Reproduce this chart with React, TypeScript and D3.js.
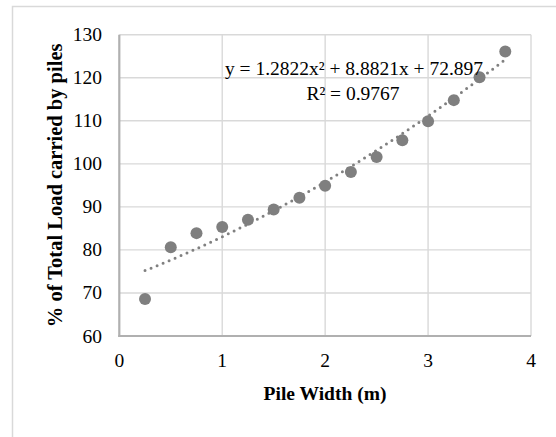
import React, { useEffect, useRef } from "react";
import * as d3 from "d3";

// pile width (m) and share of load carried by piles (%)
const pileWidths = [0.25, 0.5, 0.75, 1, 1.25, 1.5, 1.75, 2, 2.25, 2.5, 2.75, 3, 3.25, 3.5, 3.75];
const loadShare = [68.6, 80.6, 83.9, 85.3, 87.0, 89.4, 92.1, 94.9, 98.1, 101.6, 105.5, 109.9, 114.8, 120.1, 126.1];

// polynomial trendline coefficients (c0 + c1*x + c2*x^2), as printed on the chart
const trendCoef = [72.897, 8.8821, 1.2822];
const equationLabel = "y = 1.2822x² + 8.8821x + 72.897";
const r2Label = "R² = 0.9767";

const xTicks = [0, 1, 2, 3, 4];
const yTicks = [60, 70, 80, 90, 100, 110, 120, 130];

const xTitle = "Pile Width (m)";
const yTitle = "% of Total Load carried by piles";

const W = 556;
const H = 437;

export default function App() {
  const ref = useRef<SVGSVGElement | null>(null);

  useEffect(() => {
    if (!ref.current) return;
    const svg = d3.select(ref.current);
    svg.selectAll("*").remove();

    const font = "'Liberation Serif', 'Times New Roman', serif";
    const fs = 19.5;

    const x = d3.scaleLinear().domain([0, 4]).range([119.3, 531]);
    const y = d3.scaleLinear().domain([60, 130]).range([336, 34.7]);

    // chart border
    svg
      .append("rect")
      .attr("x", 12.5)
      .attr("y", 6.5)
      .attr("width", 600)
      .attr("height", 500)
      .attr("fill", "white")
      .attr("stroke", "#d9d9d9")
      .attr("stroke-width", 1.5);

    // grid
    const grid = svg.append("g");
    grid
      .selectAll("line.h")
      .data(yTicks.slice(1))
      .enter()
      .append("line")
      .attr("x1", x(0))
      .attr("x2", x(4))
      .attr("y1", (d) => y(d))
      .attr("y2", (d) => y(d))
      .attr("stroke", "#d9d9d9")
      .attr("stroke-width", 1.4);
    grid
      .selectAll("line.v")
      .data(xTicks.slice(1))
      .enter()
      .append("line")
      .attr("x1", (d) => x(d))
      .attr("x2", (d) => x(d))
      .attr("y1", y(60))
      .attr("y2", y(130))
      .attr("stroke", "#d9d9d9")
      .attr("stroke-width", 1.4);

    // axis lines
    svg
      .append("line")
      .attr("x1", x(0))
      .attr("x2", x(0))
      .attr("y1", y(60) + 1)
      .attr("y2", y(130))
      .attr("stroke", "#b0b0b0")
      .attr("stroke-width", 2.2);
    svg
      .append("line")
      .attr("x1", x(0) - 1)
      .attr("x2", x(4))
      .attr("y1", y(60))
      .attr("y2", y(60))
      .attr("stroke", "#b0b0b0")
      .attr("stroke-width", 2.2);

    // tick labels
    svg
      .selectAll("text.xt")
      .data(xTicks)
      .enter()
      .append("text")
      .attr("x", (d) => x(d))
      .attr("y", 367)
      .attr("text-anchor", "middle")
      .attr("font-family", font)
      .attr("font-size", fs)
      .text((d) => d);
    svg
      .selectAll("text.yt")
      .data(yTicks)
      .enter()
      .append("text")
      .attr("x", 102)
      .attr("y", (d) => y(d) + 6.5)
      .attr("text-anchor", "end")
      .attr("font-family", font)
      .attr("font-size", fs)
      .text((d) => d);

    // trendline
    const poly = (v: number) => trendCoef[0] + trendCoef[1] * v + trendCoef[2] * v * v;
    const xs = d3.range(0, 71).map((i) => 0.25 + (i * 3.5) / 70);
    const line = d3
      .line<number>()
      .x((d) => x(d))
      .y((d) => y(poly(d)));
    svg
      .append("path")
      .attr("d", line(xs))
      .attr("fill", "none")
      .attr("stroke", "#808080")
      .attr("stroke-width", 3)
      .attr("stroke-linecap", "round")
      .attr("stroke-dasharray", "0 6.5");

    // points
    svg
      .selectAll("circle.pt")
      .data(pileWidths)
      .enter()
      .append("circle")
      .attr("cx", (d) => x(d))
      .attr("cy", (d, i) => y(loadShare[i]))
      .attr("r", 6)
      .attr("fill", "#7f7f7f");

    // equation labels
    svg
      .append("text")
      .attr("x", 354)
      .attr("y", 75)
      .attr("text-anchor", "middle")
      .attr("font-family", font)
      .attr("font-size", fs)
      .text(equationLabel);
    svg
      .append("text")
      .attr("x", 353)
      .attr("y", 100)
      .attr("text-anchor", "middle")
      .attr("font-family", font)
      .attr("font-size", fs)
      .text(r2Label);

    // axis titles
    svg
      .append("text")
      .attr("x", 325)
      .attr("y", 400)
      .attr("text-anchor", "middle")
      .attr("font-family", font)
      .attr("font-weight", "bold")
      .attr("font-size", fs)
      .text(xTitle);
    svg
      .append("text")
      .attr("transform", `translate(62,${(y(60) + y(130)) / 2}) rotate(-90)`)
      .attr("text-anchor", "middle")
      .attr("font-family", font)
      .attr("font-weight", "bold")
      .attr("font-size", 20.5)
      .text(yTitle);
  }, []);

  return (
    <svg
      ref={ref}
      width={W}
      height={H}
      style={{ position: "absolute", left: 0, top: 0, background: "white" }}
    />
  );
}
